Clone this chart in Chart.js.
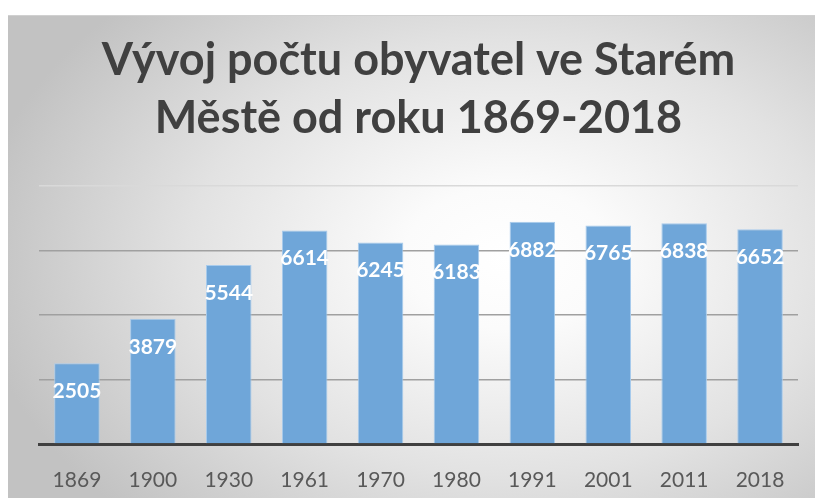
<!DOCTYPE html>
<html>
<head>
<meta charset="utf-8">
<script src="https://cdn.jsdelivr.net/npm/chart.js@4.4.1/dist/chart.umd.min.js"></script>
<style>
  html, body { margin: 0; padding: 0; background: #ffffff; overflow: hidden; }
  #wrap {
    position: absolute; left: 8px; top: 15px; width: 807px; height: 483px; overflow: hidden;
    background: radial-gradient(ellipse 72% 82% at 62% 50%, #ffffff 0%, #fbfbfb 18%, #e2e2e2 55%, #c2c2c2 92%);
    border-top: 1px solid #d0d0d0;
  }
  canvas { display: block; }
</style>
</head>
<body>
<div id="wrap"><canvas id="c" width="807" height="501"></canvas></div>
<script>
const titleLines = ["Vývoj počtu obyvatel ve Starém", "Městě od roku 1869-2018"];
const categories = ["1869", "1900", "1930", "1961", "1970", "1980", "1991", "2001", "2011", "2018"];
const population = [2505, 3879, 5544, 6614, 6245, 6183, 6882, 6765, 6838, 6652];
const yTicks = [0, 2000, 4000, 6000, 8000];

const barLabels = {
  id: 'barLabels',
  afterDatasetsDraw(chart) {
    const ctx = chart.ctx;
    const meta = chart.getDatasetMeta(0);
    ctx.save();
    ctx.fillStyle = '#ffffff';
    ctx.font = 'bold 21px Lato';
    ctx.textAlign = 'center';
    ctx.textBaseline = 'middle';
    meta.data.forEach((bar, i) => {
      ctx.fillText(String(population[i]), bar.x, bar.y + 28);
    });
    ctx.restore();
  }
};

new Chart(document.getElementById('c'), {
  type: 'bar',
  data: {
    labels: categories,
    datasets: [{
      data: population,
      backgroundColor: '#6fa6d9',
      borderColor: '#a8cbec',
      borderWidth: 1,
      categoryPercentage: 1.0,
      barPercentage: 0.6
    }]
  },
  options: {
    responsive: false,
    animation: false,
    layout: { padding: { left: 31, right: 17, top: 0, bottom: 0 } },
    plugins: {
      legend: { display: false },
      tooltip: { enabled: false },
      title: {
        display: true,
        text: titleLines,
        color: '#404040',
        font: { family: 'Lato', size: 45, weight: 'bold', lineHeight: 1.275 },
        padding: { top: 16, bottom: 39 }
      }
    },
    scales: {
      x: {
        grid: { display: false, drawTicks: false },
        border: { display: true, color: '#404040', width: 3 },
        ticks: { color: '#595959', font: { family: 'Lato', size: 21, lineHeight: 1.0 }, padding: 26 }
      },
      y: {
        min: 0, max: 8000,
        afterBuildTicks(scale) { scale.ticks = yTicks.map(v => ({ value: v })); },
        ticks: { display: false },
        grid: {
          drawTicks: false,
          lineWidth: 1.5,
          color: (c) => c.tick && c.tick.value === 0 ? 'rgba(0,0,0,0)' : (c.tick && c.tick.value === 8000 ? '#d9d9d9' : '#a0a0a0')
        },
        border: { display: false }
      }
    }
  },
  plugins: [barLabels]
});
</script>
</body>
</html>
